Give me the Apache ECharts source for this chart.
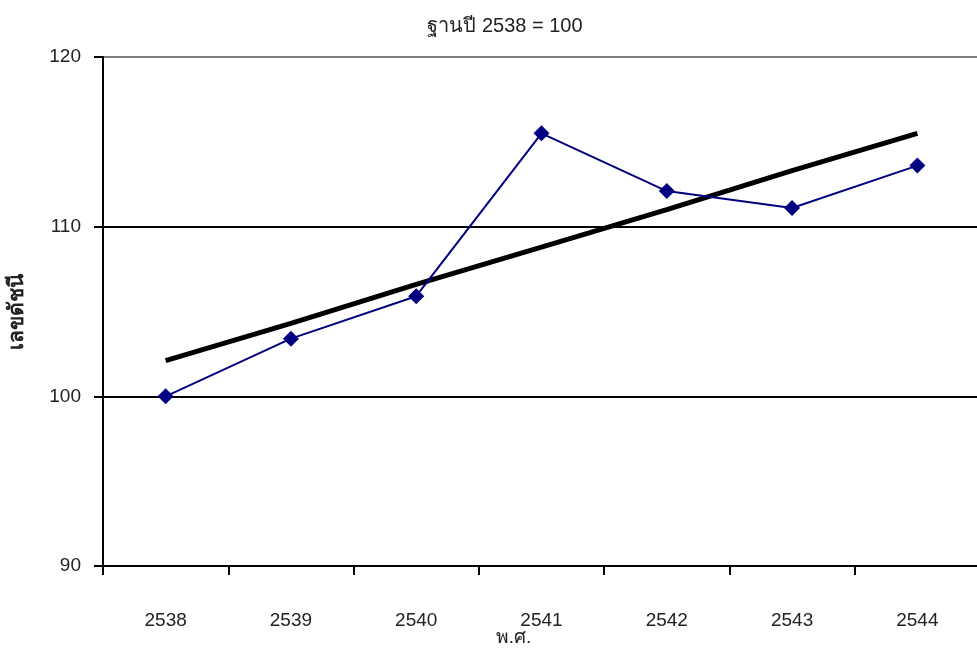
<!DOCTYPE html>
<html>
<head>
<meta charset="utf-8">
<script src="https://cdn.jsdelivr.net/npm/echarts@6/dist/echarts.min.js"></script>
<style>
  html, body { margin: 0; padding: 0; background: #ffffff; }
  #chart { width: 977px; height: 648px; }
</style>
</head>
<body>
<div id="chart"></div>
<script>
// Buddhist-era years on the x axis
const years = ['2538', '2539', '2540', '2541', '2542', '2543', '2544'];
// Index values (base year 2538 = 100)
const indexValues = [100.0, 103.4, 105.9, 115.5, 112.1, 111.1, 113.6];
// Linear trend through the index
const trendValues = [102.1, 104.3, 106.6, 108.8, 111.0, 113.3, 115.5];
// Value-axis range and step
const yMin = 90, yMax = 120, yStep = 10;

const titleText = 'ฐานปี 2538 = 100';
const yAxisTitle = 'เลขดัชนี';
const xAxisTitle = 'พ.ศ.';

const FONT = 'Arial, "Liberation Sans", sans-serif';

const chart = echarts.init(document.getElementById('chart'), null, { renderer: 'canvas' });

chart.setOption({
  backgroundColor: '#ffffff',
  animation: false,
  title: {
    text: titleText,
    left: 500,
    textAlign: 'center',
    top: 11,
    textStyle: { fontFamily: FONT, fontSize: 20, fontWeight: 'normal', color: '#222' }
  },
  grid: { left: 103, top: 57, width: 877, height: 509, containLabel: false, outerBoundsMode: 'none' },
  xAxis: {
    type: 'category',
    data: years,
    boundaryGap: true,
    name: xAxisTitle,
    nameLocation: 'middle',
    nameGap: 62,
    nameMoveOverlap: false,
    nameTextStyle: { fontFamily: FONT, fontSize: 19, color: '#222', padding: [0, 56, 0, 0] },
    axisLine: { show: true, lineStyle: { color: '#000', width: 2 } },
    axisTick: { show: true, alignWithLabel: false, length: 9, inside: false, lineStyle: { color: '#000', width: 2 } },
    axisLabel: { margin: 45, fontFamily: FONT, fontSize: 19, color: '#222' },
    splitLine: { show: false }
  },
  yAxis: {
    type: 'value',
    min: yMin,
    max: yMax,
    interval: yStep,
    name: yAxisTitle,
    nameLocation: 'middle',
    nameGap: 75,
    nameRotate: 90,
    nameMoveOverlap: false,
    nameTextStyle: { fontFamily: FONT, fontSize: 21, fontWeight: 'bold', color: '#222' },
    axisLine: { show: true, lineStyle: { color: '#000', width: 2 } },
    axisTick: { show: true, length: 9, lineStyle: { color: '#000', width: 2 } },
    axisLabel: { margin: 22, fontFamily: FONT, fontSize: 19, color: '#222' },
    splitLine: { show: true, lineStyle: { color: ['#000', '#000', '#000', '#808080'], width: 2 } }
  },
  series: [
    {
      name: 'trend',
      type: 'line',
      data: trendValues,
      showSymbol: false,
      symbol: 'none',
      lineStyle: { color: '#000', width: 5 },
      z: 2
    },
    {
      name: 'index',
      type: 'line',
      data: indexValues,
      symbol: 'diamond',
      symbolSize: 16,
      itemStyle: { color: '#000080' },
      lineStyle: { color: '#000080', width: 2 },
      z: 3
    }
  ]
});
</script>
</body>
</html>
